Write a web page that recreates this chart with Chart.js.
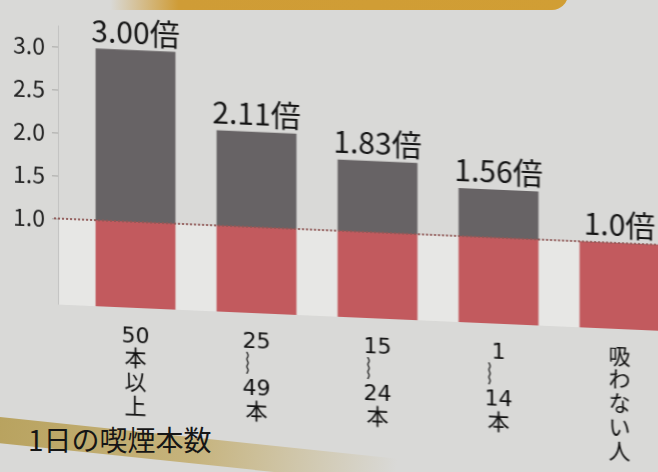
<!DOCTYPE html>
<html lang="ja">
<head>
  <meta charset="UTF-8" />
  <title>1日の喫煙本数と倍率</title>
  <script src="https://cdn.jsdelivr.net/npm/chart.js"></script>
  <style>
    html, body { margin: 0; padding: 0; }
    body { width: 658px; height: 472px; overflow: hidden; position: relative; background: #d9d9d7; font-family: "Noto Sans CJK JP", sans-serif; }
    #topband { position: absolute; left: 110px; top: -12px; width: 458px; height: 22px; border-radius: 0 0 16px 0;
               background: linear-gradient(90deg, rgba(205,152,48,0), #cf9c36 15%, #d19e34); }
    #wrap { position: absolute; left: 0; top: 0; width: 700px; height: 472px; transform: skewY(2.5deg); transform-origin: 0 0; }
    #footband { position: absolute; left: -10px; top: 416px; width: 410px; height: 26px; transform: rotate(6deg); transform-origin: 0 0;
                background: linear-gradient(90deg, #b8a25e, #c6b37c 50%, rgba(217,217,215,0)); }
    #caption { position: absolute; left: 28px; top: 421px; font-size: 28px; line-height: 36px; color: #161616; }
  </style>
</head>
<body>
  <div id="topband"></div>
  <div id="footband"></div>
  <div id="caption">1日の喫煙本数</div>
  <div id="wrap"><canvas id="riskChart" width="700" height="472"></canvas></div>

  <script>
    // 1日の喫煙本数ごとの倍率（吸わない人 = 1.0）
    const categories = [
      ['50', '本', '以', '上'],
      ['25', '︴', '49', '本'],
      ['15', '︴', '24', '本'],
      ['1', '︴', '14', '本'],
      ['吸', 'わ', 'な', 'い', '人']
    ];
    const riskRatio = [3.00, 2.11, 1.83, 1.56, 1.0];
    const ratioDecimals = [2, 2, 2, 2, 1];
    const baseline = [1.0, 1.0, 1.0, 1.0, 1.0];
    const yTicks = [1.0, 1.5, 2.0, 2.5, 3.0];
    const refLevel = 1.0;

    const excess = riskRatio.map((v, i) => v - baseline[i]);
    const jpFont = '"Noto Sans CJK JP", sans-serif';
    const AXIS_GAP = 17; // 縦軸の線は棒の領域より少し左

    // 縦軸の線と目盛り、0〜1.0 の明るい帯
    const panelPlugin = {
      id: 'panel',
      beforeDatasetsDraw(chart) {
        const { ctx, chartArea, scales } = chart;
        const ax = chartArea.left - AXIS_GAP;
        const top = scales.y.getPixelForValue(refLevel);
        const bottom = scales.y.getPixelForValue(0);
        ctx.save();
        ctx.fillStyle = '#e7e7e5';
        ctx.fillRect(ax, top, chartArea.right - ax, bottom - top);

        ctx.strokeStyle = '#c2c2c0';
        ctx.lineWidth = 1;
        ctx.beginPath();
        ctx.moveTo(ax + 0.5, chartArea.top - 4);
        ctx.lineTo(ax + 0.5, bottom);
        ctx.stroke();

        ctx.strokeStyle = '#a8a8a6';
        yTicks.forEach(v => {
          const y = Math.round(scales.y.getPixelForValue(v)) + 0.5;
          ctx.beginPath();
          ctx.moveTo(ax - 6, y);
          ctx.lineTo(ax, y);
          ctx.stroke();
        });
        ctx.restore();
      }
    };

    // 1.0 の点線と棒の上の倍率
    const overlayPlugin = {
      id: 'overlay',
      afterDatasetsDraw(chart) {
        const { ctx, chartArea, scales } = chart;
        const y1 = scales.y.getPixelForValue(refLevel);
        ctx.save();
        ctx.strokeStyle = '#8f5856';
        ctx.lineWidth = 2;
        ctx.setLineDash([2, 2]);
        ctx.beginPath();
        ctx.moveTo(chartArea.left - AXIS_GAP - 4, y1);
        ctx.lineTo(chartArea.right, y1);
        ctx.stroke();

        const meta = chart.getDatasetMeta(1);
        ctx.fillStyle = '#151515';
        ctx.font = '30px ' + jpFont;
        ctx.textAlign = 'center';
        ctx.textBaseline = 'bottom';
        meta.data.forEach((bar, i) => {
          const y = scales.y.getPixelForValue(riskRatio[i]);
          ctx.fillText(riskRatio[i].toFixed(ratioDecimals[i]) + '倍', bar.x, y - 3);
        });
        ctx.restore();
      }
    };

    new Chart(document.getElementById('riskChart'), {
      type: 'bar',
      data: {
        labels: categories,
        datasets: [
          { label: '基準', data: baseline, backgroundColor: '#c25a5e', stack: 's' },
          { label: '上乗せ', data: excess, backgroundColor: '#676365', stack: 's' }
        ]
      },
      options: {
        responsive: false,
        animation: false,
        devicePixelRatio: 1,
        layout: { padding: { left: 6, right: 20, top: 27, bottom: 0 } },
        datasets: { bar: { barPercentage: 0.66, categoryPercentage: 1 } },
        plugins: { legend: { display: false }, tooltip: { enabled: false } },
        scales: {
          x: {
            stacked: true,
            grid: { display: false },
            border: { display: false },
            ticks: {
              color: '#101010',
              font: { family: '"DejaVu Sans", "Noto Sans CJK JP", sans-serif', size: 22, lineHeight: 1.08 },
              maxRotation: 0, autoSkip: false, padding: 9
            },
            afterFit(s) { s.height = 170; }
          },
          y: {
            stacked: true,
            min: 0,
            max: 3.2,
            afterBuildTicks(s) { s.ticks = yTicks.map(v => ({ value: v })); },
            grid: { display: false, drawTicks: false },
            border: { display: false },
            ticks: {
              color: '#222',
              font: { family: jpFont, size: 23 },
              padding: 30,
              callback: v => v.toFixed(1)
            },
            afterFit(s) {
              s.width = 69;
              s.paddingTop = 0;
              s.paddingBottom = 0;
            }
          }
        }
      },
      plugins: [panelPlugin, overlayPlugin]
    });
  </script>
</body>
</html>
